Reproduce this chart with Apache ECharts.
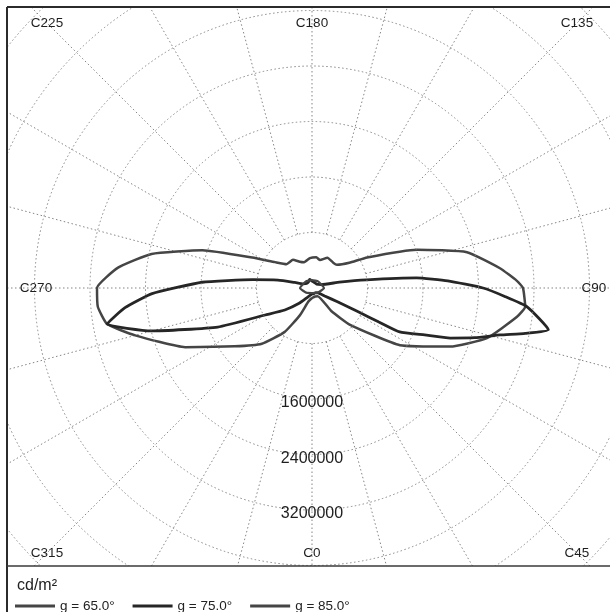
<!DOCTYPE html>
<html>
<head>
<meta charset="utf-8">
<script src="https://cdn.jsdelivr.net/npm/echarts@6/dist/echarts.min.js"></script>
<style>
  html, body { margin: 0; padding: 0; background: #fff; }
  #chart { width: 610px; height: 612px; }
</style>
</head>
<body>
<div id="chart"></div>
<script>
// luminance curves, C-plane angle (deg) -> cd/m²
const g65Angles = [0, 20, 35, 40, 46, 57, 67, 74, 82, 85, 90, 92, 96, 103, 110, 119, 124, 133, 140, 153, 164, 172, 184, 197, 205, 214, 227, 235, 243, 251, 258, 264, 270, 275, 280, 285, 295, 307, 318, 328, 336, 345, 360];
const g65Values = [144000, 130000, 144000, 432000, 764000, 1513000, 2162000, 2623000, 2984000, 3085000, 3041000, 2955000, 2724000, 2292000, 1614000, 908000, 649000, 490000, 476000, 490000, 418000, 447000, 432000, 389000, 418000, 490000, 504000, 650000, 966000, 1672000, 2364000, 2811000, 3099000, 3099000, 2998000, 2638000, 2018000, 1398000, 1081000, 750000, 432000, 202000, 144000];

const g75Angles = [0, 20, 40, 52, 58, 61.5, 62.7, 63.1, 63.4, 67.4, 70.1, 73, 76, 78, 80, 85, 87.5, 90, 93, 95.5, 98.5, 102, 110, 130, 150, 180, 195, 210, 230, 245, 252, 257, 262, 267, 272, 276, 280, 285, 292.5, 300, 309, 320, 335, 350, 360];
const g75Values = [86000, 86000, 86000, 115000, 216000, 418000, 750000, 1081000, 1413000, 1759000, 2119000, 2450000, 2796000, 3142000, 3459000, 3113000, 2782000, 2465000, 1960000, 1513000, 793000, 404000, 144000, 86000, 86000, 101000, 130000, 101000, 101000, 144000, 259000, 504000, 865000, 1586000, 2306000, 2710000, 2998000, 2393000, 1470000, 778000, 504000, 288000, 144000, 101000, 86000];

const g85Angles = [0, 45, 90, 135, 180, 225, 270, 315, 360];
const g85Values = [72000, 101000, 173000, 130000, 115000, 130000, 173000, 101000, 72000];

const seriesNames = ['g = 65.0°', 'g = 75.0°', 'g = 85.0°'];

// grid
const ringStep = 800000;
const radiusMax = 6400000;
const radiusLabels = [1600000, 2400000, 3200000];
const radialAngles = [0, 15, 30, 45, 60, 75, 90, 105, 120, 135, 150, 165, 180, 195, 210, 225, 240, 255, 270, 285, 300, 315, 330, 345];
const cPlaneAngles = [0, 45, 90, 135, 180, 225, 270, 315];

const cx = 312, cy = 288;
const ringPx = 55.5;
const box = { left: 36, right: 594, top: 23, bottom: 553 };
const font = '"Liberation Sans", Arial, sans-serif';
const gridLine = { color: '#858585', width: 1, type: [1.5, 2.5] };

const pairs = (vals, angs) => vals.map((v, i) => [v, angs[i]]);

// where the ray of a C-plane meets the label box
function labelPoint(a) {
  const rad = a * Math.PI / 180;
  const dx = Math.sin(rad), dy = Math.cos(rad);
  let t = Infinity;
  if (dx > 1e-6) t = Math.min(t, (box.right - cx) / dx);
  if (dx < -1e-6) t = Math.min(t, (box.left - cx) / dx);
  if (dy > 1e-6) t = Math.min(t, (box.bottom - cy) / dy);
  if (dy < -1e-6) t = Math.min(t, (box.top - cy) / dy);
  return [cx + t * dx, cy + t * dy];
}

const radialData = radialAngles.flatMap(a => [[ringStep, a], [radiusMax, a], ['-', '-']]);

const chart = echarts.init(document.getElementById('chart'));

const curve = (name, vals, angs, color, width) => ({
  name: name,
  type: 'line',
  coordinateSystem: 'polar',
  data: pairs(vals, angs),
  symbol: 'none',
  smooth: 0.15,
  itemStyle: { color: color },
  lineStyle: { color: color, width: width },
  z: 5
});

const options = {
  animation: false,
  textStyle: { fontFamily: font },
  polar: {
    center: [cx, cy],
    radius: radiusMax / ringStep * ringPx
  },
  angleAxis: {
    type: 'value',
    min: 0,
    max: 360,
    interval: 15,
    startAngle: 270,
    clockwise: false,
    axisLine: { show: false },
    axisTick: { show: false },
    axisLabel: { show: false },
    splitLine: { show: false }
  },
  radiusAxis: {
    type: 'value',
    min: 0,
    max: radiusMax,
    interval: ringStep,
    axisLine: { show: false },
    axisTick: { show: false },
    splitLine: { show: true, lineStyle: gridLine },
    axisLabel: {
      formatter: v => radiusLabels.includes(v) ? String(v) : '',
      align: 'center',
      verticalAlign: 'top',
      lineHeight: 8,
      margin: 0,
      fontSize: 16,
      color: '#1e1e1e',
      fontFamily: font
    },
    z: 10
  },
  legend: {
    data: seriesNames,
    left: 10,
    top: 594,
    icon: 'rect',
    itemWidth: 40,
    itemHeight: 3,
    itemGap: 18,
    textStyle: { fontSize: 13.5, color: '#222', fontFamily: font },
    z: 120
  },
  graphic: [
    { type: 'rect', shape: { x: 0, y: 0, width: 610, height: 7 }, style: { fill: '#fff' }, z: 100 },
    { type: 'rect', shape: { x: 0, y: 0, width: 7, height: 612 }, style: { fill: '#fff' }, z: 100 },
    { type: 'rect', shape: { x: 7, y: 566, width: 603, height: 46 }, style: { fill: '#fff' }, z: 100 },
    { type: 'line', shape: { x1: 7, y1: 7, x2: 612, y2: 7 }, style: { stroke: '#2b2b2b', lineWidth: 2 }, z: 105 },
    { type: 'line', shape: { x1: 7, y1: 7, x2: 7, y2: 612 }, style: { stroke: '#2b2b2b', lineWidth: 2 }, z: 105 },
    { type: 'line', shape: { x1: 7, y1: 566, x2: 612, y2: 566 }, style: { stroke: '#3a3a3a', lineWidth: 1.5 }, z: 105 },
    { type: 'text', x: 17, y: 586, style: { text: 'cd/m²', fontSize: 16, fill: '#222', fontFamily: font, verticalAlign: 'middle' }, z: 110 }
  ].concat(cPlaneAngles.map(a => {
    const p = labelPoint(a);
    return {
      type: 'text', x: p[0], y: p[1],
      style: { text: 'C' + a, fontSize: 13.5, fill: '#1e1e1e', fontFamily: font, align: 'center', verticalAlign: 'middle' },
      z: 110
    };
  })),
  series: [
    {
      name: 'grid',
      type: 'line',
      coordinateSystem: 'polar',
      data: radialData,
      symbol: 'none',
      silent: true,
      lineStyle: gridLine,
      z: 1
    },
    curve(seriesNames[0], g65Values, g65Angles, '#454545', 2.5),
    curve(seriesNames[1], g75Values, g75Angles, '#262626', 2.8),
    curve(seriesNames[2], g85Values, g85Angles, '#454545', 2.2)
  ]
};

chart.setOption(options);
</script>
</body>
</html>
